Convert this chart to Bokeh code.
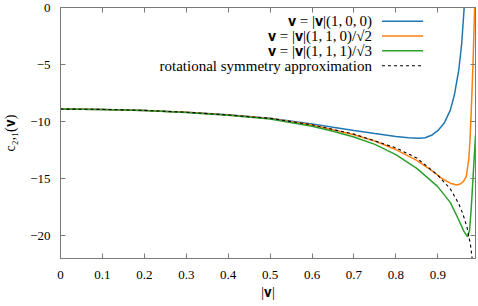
from bokeh.plotting import figure
from bokeh.models import LinearAxis, FixedTicker, Label, Range1d
from bokeh.embed import file_html
from bokeh.resources import INLINE

# ---- data ----
x_blue = [0.0, 0.1, 0.2, 0.3, 0.4, 0.5, 0.6, 0.65, 0.7, 0.75, 0.8, 0.83, 0.855, 0.87,
          0.885, 0.9, 0.915, 0.93, 0.94, 0.95, 0.957, 0.963, 0.967]
y_blue = [-8.9, -8.93, -9.02, -9.18, -9.4, -9.7, -10.2, -10.5, -10.78, -11.05, -11.3, -11.42,
          -11.47, -11.42, -11.2, -10.8, -10.15, -9.0, -7.6, -5.5, -3.2, 0.0, 2.0]

x_orange = [0.0, 0.1, 0.2, 0.3, 0.4, 0.5, 0.6, 0.65, 0.7, 0.75, 0.8, 0.85, 0.89, 0.91,
            0.93, 0.945, 0.955, 0.962, 0.968, 0.974, 0.977, 0.98, 0.984, 0.988, 0.99]
y_orange = [-8.9, -8.93, -9.02, -9.18, -9.42, -9.73, -10.3, -10.72, -11.15, -11.7, -12.45,
            -13.4, -14.4, -15.0, -15.4, -15.55, -15.45, -15.2, -14.8, -13.3, -11.5, -9.0,
            -5.0, 0.0, 2.0]

x_green = [0.0, 0.1, 0.2, 0.3, 0.4, 0.5, 0.6, 0.65, 0.7, 0.75, 0.8, 0.85, 0.9, 0.93,
           0.95, 0.962, 0.971, 0.976, 0.98, 0.984, 0.988, 0.99]
y_green = [-8.9, -8.93, -9.03, -9.2, -9.45, -9.77, -10.4, -10.85, -11.35, -12.0, -12.9,
           -14.1, -15.7, -17.1, -18.6, -19.6, -20.1, -19.5, -17.5, -15.0, -12.5, -11.2]

x_approx = [0.0, 0.1, 0.2, 0.3, 0.4, 0.5, 0.6, 0.7, 0.8, 0.85, 0.9, 0.93, 0.95, 0.96,
            0.97, 0.978, 0.983]
y_approx = [-8.9, -8.93, -9.02, -9.18, -9.42, -9.72, -10.28, -11.1, -12.3, -13.2, -14.7,
            -15.9, -17.2, -18.1, -19.3, -20.8, -22.3]

series_labels = [
    "\U0001D42F = |\U0001D42F|(1,\u20090,\u20090)",
    "\U0001D42F = |\U0001D42F|(1,\u20091,\u20090)/\u221A2",
    "\U0001D42F = |\U0001D42F|(1,\u20091,\u20091)/\u221A3",
    "rotational symmetry approximation",
]
series_colors = ["#1f77b4", "#ff7f0e", "#2ca02c", "#000000"]

x_ticks = [0.0, 0.1, 0.2, 0.3, 0.4, 0.5, 0.6, 0.7, 0.8, 0.9]
x_tick_labels = ["0", "0.1", "0.2", "0.3", "0.4", "0.5", "0.6", "0.7", "0.8", "0.9"]
y_ticks = [-20, -15, -10, -5, 0]
y_tick_labels = ["\u221220", "\u221215", "\u221210", "\u22125", "0"]

x_label = "|\U0001D42F|"
y_label = "c\u2082,\u2081(\U0001D42F)"

FONT = "Liberation Serif"
TICK_SIZE = "13px"
LABEL_SIZE = "14px"
LEG_SIZE = "15px"
AXIS_COLOR = "#7a7a7a"

# legend placement (data coordinates)
LEG_TEXT_X = 0.743
LEG_LINE_X0, LEG_LINE_X1 = 0.767, 0.865
LEG_ROWS_Y = [-1.2, -2.5, -3.8, -5.1]

p = figure(width=478, height=306, x_range=Range1d(0, 0.99), y_range=Range1d(-22, 0),
           output_backend="svg", toolbar_location=None,
           min_border_left=60, min_border_right=3, min_border_top=7, min_border_bottom=48)
p.grid.visible = False
p.outline_line_color = AXIS_COLOR
p.background_fill_color = "white"
p.border_fill_color = "white"

p.xaxis.ticker = FixedTicker(ticks=x_ticks)
p.xaxis.major_label_overrides = dict(zip(x_ticks, x_tick_labels))
p.yaxis.ticker = FixedTicker(ticks=y_ticks)
p.yaxis.major_label_overrides = dict(zip(y_ticks, y_tick_labels))
p.xaxis.axis_label = x_label
p.yaxis.axis_label = y_label

for ax in (p.xaxis + p.yaxis):
    ax.axis_line_color = AXIS_COLOR
    ax.major_tick_line_color = AXIS_COLOR
    ax.major_tick_in = 5
    ax.major_tick_out = 0
    ax.minor_tick_line_color = None
    ax.major_label_text_font = FONT
    ax.major_label_text_font_size = TICK_SIZE
    ax.major_label_text_color = "black"
    ax.axis_label_text_font = FONT
    ax.axis_label_text_font_size = LABEL_SIZE
    ax.axis_label_text_font_style = "normal"
    ax.axis_label_text_color = "black"
p.xaxis.major_label_standoff = 12
p.xaxis.axis_label_standoff = 3
p.yaxis.major_label_standoff = 10
p.yaxis.axis_label_standoff = 9

for loc, ticks in (("above", x_ticks), ("right", y_ticks)):
    ax = LinearAxis(ticker=FixedTicker(ticks=ticks))
    ax.axis_line_color = AXIS_COLOR
    ax.major_tick_line_color = AXIS_COLOR
    ax.major_tick_in = 5
    ax.major_tick_out = 0
    ax.minor_tick_line_color = None
    ax.major_label_overrides = {t: "" for t in ticks}
    ax.major_label_standoff = 0
    p.add_layout(ax, loc)

p.line(x_blue, y_blue, line_color=series_colors[0], line_width=1.5)
p.line(x_orange, y_orange, line_color=series_colors[1], line_width=1.5)
p.line(x_green, y_green, line_color=series_colors[2], line_width=1.5)
p.line(x_approx, y_approx, line_color=series_colors[3], line_width=1.1, line_dash="3 3")

for i, (lab, col) in enumerate(zip(series_labels, series_colors)):
    p.add_layout(Label(x=LEG_TEXT_X, y=LEG_ROWS_Y[i], text=lab, text_align="right",
                       text_baseline="middle", text_font=FONT, text_font_size=LEG_SIZE,
                       text_color="black"))
    p.line([LEG_LINE_X0, LEG_LINE_X1], [LEG_ROWS_Y[i], LEG_ROWS_Y[i]], line_color=col,
           line_width=1.1 if i == 3 else 1.5, line_dash="3 3" if i == 3 else "solid")

open("out.html", "w").write(file_html(p, INLINE))
